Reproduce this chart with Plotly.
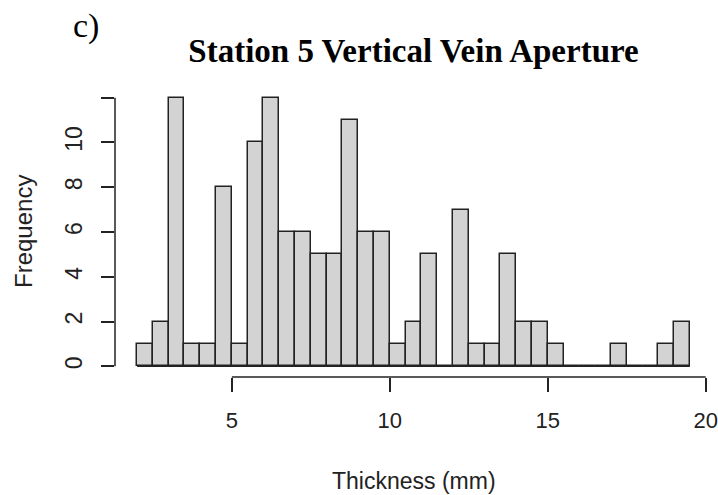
import numpy as np
import plotly.graph_objects as go

# histogram breaks (bin width 0.5 mm) and counts
bin_start = 2.0
bin_width = 0.5
counts = [1, 2, 12, 1, 1, 8, 1, 10, 12, 6, 6, 5, 5, 11, 6, 6,
          1, 2, 5, 0, 7, 1, 1, 5, 2, 2, 1, 0, 0, 0, 1, 0, 0, 1, 2]
x_ticks = [5, 10, 15, 20]
y_ticks = [0, 2, 4, 6, 8, 10, 12]
y_ticktext = ["0", "2", "4", "6", "8", "10", ""]

title = "Station 5 Vertical Vein Aperture"
panel = "c)"
x_title = "Thickness (mm)"
y_title = "Frequency"

edges = bin_start + bin_width * np.arange(len(counts) + 1)
centers = (edges[:-1] + edges[1:]) / 2

W, H = 718, 495
L, R, T, B = 115, 6, 87, 118
pw, ph = W - L - R, H - T - B

xmin, xmax = edges[0], edges[-1]
xpad = 0.04 * (xmax - xmin)
ymax = max(y_ticks)
ypad = 0.04 * ymax

SANS = "Liberation Sans, Arial"
SERIF = "Liberation Serif, Times New Roman"

fig = go.Figure()
# baseline (zero-height bins drawn as a line, like R)
fig.add_trace(go.Scatter(x=[xmin, xmax], y=[0, 0], mode="lines",
                         line=dict(color="#222", width=1.5),
                         hoverinfo="skip", showlegend=False))
fig.add_trace(go.Bar(x=centers, y=counts, width=bin_width,
                     marker=dict(color="#D3D3D3", line=dict(color="#222", width=1.5)),
                     showlegend=False))

fig.update_layout(
    width=W, height=H,
    margin=dict(l=L, r=R, t=T, b=B, autoexpand=False),
    paper_bgcolor="white", plot_bgcolor="white",
    bargap=0,
    font=dict(family=SANS, color="#222"),
    title=dict(text="<b>" + title + "</b>", x=(L + pw / 2) / W, xanchor="center",
               y=1 - 50 / H, yanchor="middle", yref="container",
               font=dict(family=SERIF, size=33, color="black")),
    xaxis=dict(range=[xmin - xpad, xmax + xpad], tickvals=x_ticks,
               ticks="outside", ticklen=14, tickwidth=1.5, tickcolor="#222",
               showgrid=False, zeroline=False, showline=False,
               tickfont=dict(size=22), ticklabelstandoff=10),
    yaxis=dict(range=[-ypad, ymax + ypad], tickvals=y_ticks, ticktext=y_ticktext,
               tickangle=-90,
               ticks="outside", ticklen=13, tickwidth=1.5, tickcolor="#222",
               showgrid=False, zeroline=False, showline=False,
               tickfont=dict(size=23), ticklabelstandoff=10),
    shapes=[
        dict(type="line", xref="x", yref="paper", x0=min(x_ticks), x1=max(x_ticks),
             y0=0, y1=0, line=dict(color="#222", width=1.5)),
        dict(type="line", xref="paper", yref="y", x0=0, x1=0,
             y0=min(y_ticks), y1=max(y_ticks), line=dict(color="#222", width=1.5)),
    ],
    annotations=[
        dict(text=panel, xref="paper", yref="paper",
             x=(86 - L) / pw, y=(H - B - 26) / ph, xanchor="center", yanchor="middle",
             showarrow=False,
             font=dict(family=SERIF, size=34, color="black")),
        dict(text=x_title, xref="paper", yref="paper",
             x=0.5, y=(H - B - 481) / ph, xanchor="center", yanchor="middle",
             showarrow=False, font=dict(size=23)),
        dict(text=y_title, xref="paper", yref="paper", textangle=-90,
             x=(23 - L) / pw, y=0.5, xanchor="center", yanchor="middle",
             showarrow=False, font=dict(size=24)),
    ],
)

fig.write_html("out.html")
